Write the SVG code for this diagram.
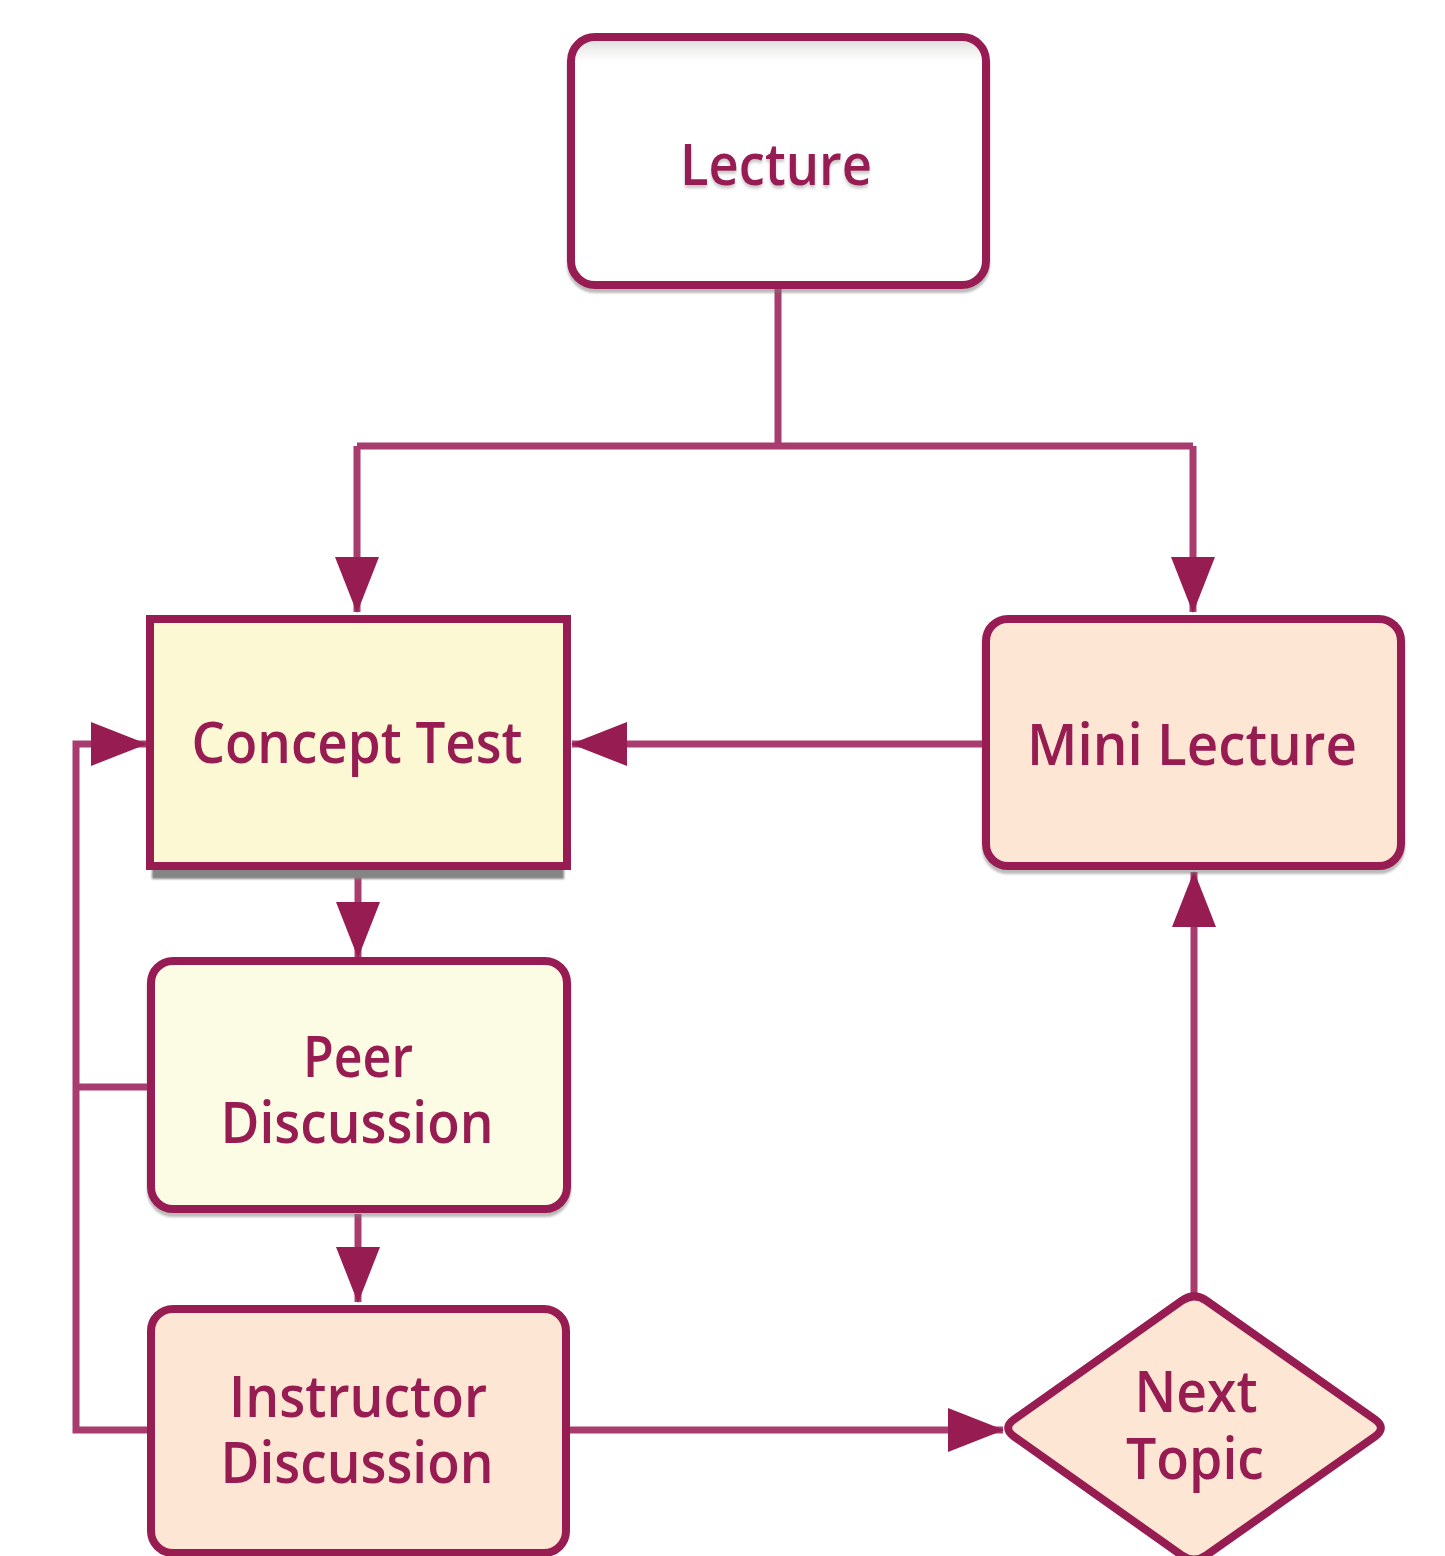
<svg xmlns="http://www.w3.org/2000/svg" width="1445" height="1556" viewBox="0 0 1445 1556">
<defs>
<style>
.box{stroke:#961c52;stroke-width:8;}
.lbl{font-family:"Open Sans","Noto Sans","Liberation Sans",sans-serif;font-weight:600;font-size:58px;fill:#961c52;text-anchor:middle;}
.conn{fill:none;stroke:#a83c6e;stroke-width:7;marker-end:url(#arr);}
.plain{fill:none;stroke:#a83c6e;stroke-width:7;}
</style>
<marker id="arr" markerUnits="userSpaceOnUse" viewBox="0 0 56 44" markerWidth="56" markerHeight="44" refX="55" refY="22" orient="auto">
<path d="M0,0 L56,22 L0,44 z" fill="#961c52"/>
</marker>
<linearGradient id="lecFill" x1="0" y1="0" x2="0" y2="1">
<stop offset="0" stop-color="#d9d8d6"/>
<stop offset="0.05" stop-color="#efefee"/>
<stop offset="0.1" stop-color="#ffffff"/>
<stop offset="1" stop-color="#ffffff"/>
</linearGradient>
<filter id="sh" x="-5%" y="-5%" width="110%" height="115%">
<feDropShadow dx="0" dy="4" stdDeviation="0.8" flood-color="#777" flood-opacity="0.5"/>
</filter>
<filter id="tsh" x="-10%" y="-20%" width="120%" height="150%">
<feDropShadow dx="0" dy="3" stdDeviation="1.5" flood-color="#888" flood-opacity="0.45"/>
</filter>
<filter id="blur1" x="-5%" y="-5%" width="110%" height="110%">
<feGaussianBlur stdDeviation="1.2"/>
</filter>
</defs>
<rect width="1445" height="1556" fill="#ffffff"/>

<g id="connectors">
<path class="plain" d="M778 289 V446 M357 446 H1193"/>
<path class="conn" d="M357 446 V612"/>
<path class="conn" d="M1193 446 V612"/>
<path class="conn" d="M982 744 H572"/>
<path class="conn" d="M358 870 V957"/>
<path class="conn" d="M358 1214 V1302"/>
<path class="conn" d="M570 1430 H1003"/>
<path class="conn" d="M1194 1297 V872"/>
<path class="plain" d="M147 1087 H76"/>
<path class="conn" d="M147 1430 H76 V744 H146"/>
</g>

<g id="lecture">
<rect class="box" x="571" y="37" width="415" height="248" rx="24" fill="url(#lecFill)" filter="url(#sh)"/>
<text class="lbl" x="776" y="185" font-size="60" textLength="192" lengthAdjust="spacingAndGlyphs" filter="url(#tsh)">Lecture</text>
</g>

<g id="concept-test">
<rect x="152" y="628" width="412" height="251" fill="#858585" filter="url(#blur1)"/>
<rect class="box" x="150" y="619" width="417" height="247" fill="#fcf8d4"/>
<text class="lbl" x="357" y="763" textLength="331" lengthAdjust="spacingAndGlyphs">Concept Test</text>
</g>

<g id="mini-lecture">
<rect class="box" x="986" y="619" width="415" height="247" rx="22" fill="#fde6d3" filter="url(#sh)"/>
<text class="lbl" x="1192" y="765" textLength="330" lengthAdjust="spacingAndGlyphs">Mini Lecture</text>
</g>

<g id="peer-discussion">
<rect class="box" x="151" y="961" width="416" height="248" rx="22" fill="#fcfbe4" filter="url(#sh)"/>
<text class="lbl" x="358" y="1077" textLength="110" lengthAdjust="spacingAndGlyphs">Peer</text>
<text class="lbl" x="357" y="1143" textLength="273" lengthAdjust="spacingAndGlyphs">Discussion</text>
</g>

<g id="instructor-discussion">
<rect class="box" x="151" y="1309" width="415" height="244" rx="22" fill="#fde6d3"/>
<text class="lbl" x="358" y="1417" textLength="258" lengthAdjust="spacingAndGlyphs">Instructor</text>
<text class="lbl" x="357" y="1483" textLength="273" lengthAdjust="spacingAndGlyphs">Discussion</text>
</g>

<g id="next-topic">
<path class="box" d="M1181.7,1300.7 Q1194,1292 1206.3,1300.6 L1374.7,1419.3 Q1387,1428 1374.7,1436.7 L1206.3,1555.3 Q1194,1564 1181.7,1555.3 L1014.3,1436.7 Q1002,1428 1014.3,1419.3 Z" fill="#fde6d3" stroke-linejoin="round"/>
<text class="lbl" x="1196" y="1412" textLength="123" lengthAdjust="spacingAndGlyphs">Next</text>
<text class="lbl" x="1195" y="1479" textLength="138" lengthAdjust="spacingAndGlyphs">Topic</text>
</g>
</svg>
